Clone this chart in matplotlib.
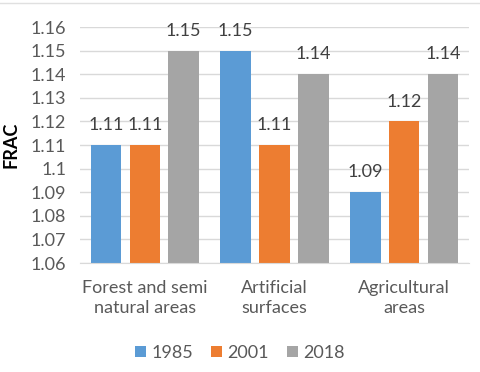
import matplotlib.pyplot as plt
import numpy as np

plt.rcParams['font.family'] = ['Lato', 'DejaVu Sans']

categories = ['Forest and semi\nnatural areas', 'Artificial\nsurfaces', 'Agricultural\nareas']
years = ['1985', '2001', '2018']
frac_1985 = [1.11, 1.15, 1.09]
frac_2001 = [1.11, 1.11, 1.12]
frac_2018 = [1.15, 1.14, 1.14]
colors = ['#5B9BD5', '#ED7D31', '#A5A5A5']

fig = plt.figure(figsize=(4.8, 3.72), dpi=100)
ax = fig.add_axes([80 / 480, 1 - 263 / 372, 389 / 480, 236 / 372])

x = np.arange(len(categories))
width = 0.235
offsets = [-0.3, 0.0, 0.3]
series = [frac_1985, frac_2001, frac_2018]
for vals, off, col, yr in zip(series, offsets, colors, years):
    bars = ax.bar(x + off, np.array(vals) - 1.06, width, bottom=1.06, color=col,
                  label=yr, zorder=3)
    for b, v in zip(bars, vals):
        ax.text(b.get_x() + b.get_width() / 2, v + 0.005, f'{v:g}',
                ha='center', va='bottom', fontsize=13, color='#404040')

ax.set_xlim(-0.5, 2.5)
ax.set_ylim(1.06, 1.16)
yt = np.arange(1.06, 1.1601, 0.01)
ax.set_yticks(yt)
ax.set_yticklabels([f'{round(v, 2):g}' for v in yt])
ax.set_xticks(x)
ax.set_xticklabels(categories, linespacing=1.3)
ax.tick_params(axis='both', length=0, labelsize=13, labelcolor='#595959')
ax.tick_params(axis='x', pad=12)
ax.tick_params(axis='y', pad=10)
ax.grid(axis='y', color='#D9D9D9', linewidth=1, zorder=0)
for s in ['top', 'right', 'left']:
    ax.spines[s].set_visible(False)
ax.spines['bottom'].set_color('#D9D9D9')
ax.spines['bottom'].set_zorder(4)

ax.set_ylabel('FRAC', fontsize=13, fontweight='bold', color='black', labelpad=8)

fig.legend(loc='center', bbox_to_anchor=(0.5, 1 - 353 / 372), ncol=3, frameon=False,
           fontsize=13, handlelength=0.6, handleheight=0.6, handletextpad=0.3,
           columnspacing=1.0, labelcolor='#595959')

fig.add_artist(plt.Line2D([0, 1], [1 - 3 / 372, 1 - 3 / 372], color='#E0E0E0', linewidth=1))

fig.savefig('out.png', dpi=100)
